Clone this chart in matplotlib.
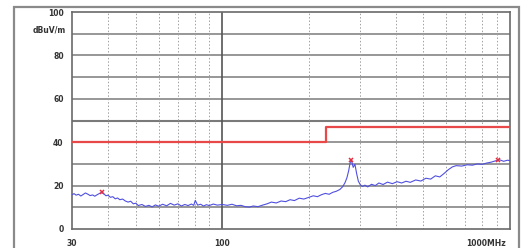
import matplotlib
matplotlib.use("Agg")
import matplotlib.pyplot as plt
from matplotlib.patches import Rectangle
from matplotlib.ticker import NullLocator

# measured trace (MHz, dBuV/m)
freq = [30, 30.5, 31, 31.6, 32.2, 32.8, 33.4, 34, 34.7, 35.4, 36, 36.7, 37.4, 38, 38.7,
        39.4, 40, 40.8, 41.6, 42.4, 43.2, 44, 45, 46, 47, 48, 49, 50, 51, 52.5, 54, 55.5,
        57, 58.5, 60, 62, 64, 66, 68, 70, 72, 74, 76, 78, 79.5, 80.5, 82, 84, 86, 88, 90,
        93, 96, 100, 104, 108, 112, 116, 120, 124, 128, 133, 138, 143, 148, 154, 160, 166,
        172, 178, 185, 192, 200, 207, 214, 221, 228, 235, 242, 249, 256, 262, 267, 271,
        275, 278, 281, 285, 289, 293, 297, 302, 307, 313, 320, 330, 340, 350, 362, 375,
        390, 405, 420, 435, 450, 470, 490, 510, 530, 550, 570, 590, 610, 630, 650, 680,
        710, 740, 770, 800, 830, 860, 890, 920, 950, 980, 1000]
level = [15.8, 16.3, 15.6, 16.0, 15.2, 15.9, 16.6, 16.1, 15.4, 15.7, 15.1, 15.8, 16.4, 16.9, 16.2,
         15.3, 15.6, 14.6, 14.9, 13.9, 14.3, 13.5, 13.8, 12.9, 12.4, 12.8, 11.6, 11.9, 10.8, 11.3, 10.4, 10.9,
         10.2, 11.1, 10.5, 11.4, 10.7, 11.8, 11.0, 11.6, 10.6, 11.3, 10.8, 11.5, 10.9, 13.2, 11.0, 11.4, 10.6, 11.2, 10.8,
         11.5, 11.0, 11.3, 10.9, 11.4, 10.7, 10.9, 10.3, 10.1, 10.6, 10.3, 11.0, 11.6, 12.4, 12.0, 12.9, 12.6,
         13.5, 13.1, 14.2, 13.8, 14.6, 15.3, 14.9, 15.8, 16.4, 16.0, 16.9, 17.4, 18.2, 19.5, 21.4, 23.6,
         27.0, 30.5, 31.6, 28.4, 29.8, 25.5, 22.0, 20.3, 19.6, 20.2, 19.4, 20.6, 20.0, 21.2, 20.5, 21.6,
         20.9, 21.8, 21.2, 22.0, 21.5, 22.6, 22.1, 23.4, 23.0, 24.5, 24.0, 25.6, 27.3, 28.6, 29.2, 29.0,
         29.6, 29.4, 30.0, 29.8, 30.4, 30.8, 31.4, 31.9, 31.2, 31.7, 31.5]

# limit line
limit_freq = [30, 230, 1000]
limit_level = [40, 47, 47]

# peak markers
peak_freq = [38, 281, 910]
peak_level = [16.9, 31.6, 31.8]

y_ticks = [0, 20, 40, 60, 80, 100]
x_labels = ["30", "100", "1000MHz"]
minor_freqs = [40, 50, 60, 70, 80, 90, 200, 300, 400, 500, 600, 700, 800, 900]

fig = plt.figure(figsize=(5.22, 2.48), dpi=100)
fig.patch.set_facecolor("white")
fig.patches.append(Rectangle((14 / 522, -0.05), 505 / 522, 1 - 7 / 248 + 0.05,
                             transform=fig.transFigure, fill=False,
                             edgecolor="#8a8a8a", lw=1.6))

ax = fig.add_axes([72 / 522, 19 / 248, 438 / 522, 217 / 248])
ax.set_xscale("log")
ax.set_xlim(30, 1000)
ax.set_ylim(0, 100)

# grid
for v in range(10, 100, 10):
    ax.axhline(v, color="#7a7a7a", lw=1.5 if v == 50 else 1.1, zorder=1)
for f in minor_freqs:
    ax.axvline(f, color="#a0a0a0", lw=0.7, ls=(0, (1.5, 2)), zorder=1)
ax.axvline(100, color="#555555", lw=1.2, zorder=1)

ax.plot(limit_freq, limit_level, drawstyle="steps-post", color="#e84848", lw=1.6, zorder=3)
ax.plot(freq, level, color="#5050e0", lw=0.8, zorder=4)
ax.plot(peak_freq, peak_level, ls="none", marker="x", color="#e03040", ms=3.5, mew=1.1, zorder=5)

for s in ax.spines.values():
    s.set_color("#6a6a6a")
    s.set_linewidth(1.2)

ax.xaxis.set_minor_locator(NullLocator())
ax.set_xticks([30, 100, 1000])
ax.set_xticklabels([])
ax.set_yticks(y_ticks)
ax.set_yticklabels([str(t) for t in y_ticks])
ax.tick_params(axis="y", length=0, pad=6, labelsize=5.5, labelcolor="#333333")
ax.tick_params(axis="x", length=0)
for lab in ax.get_yticklabels():
    lab.set_fontweight("bold")

txt = dict(fontsize=5.5, fontweight="bold", color="#333333")
ax.text(-0.014, 91.5, "dBuV/m", transform=ax.get_yaxis_transform(), ha="right", va="center", **txt)
ax.text(30, -4.5, x_labels[0], ha="center", va="top", **txt)
ax.text(100, -4.5, x_labels[1], ha="center", va="top", **txt)
ax.text(0.99, -0.045, x_labels[2], transform=ax.transAxes, ha="right", va="top", **txt)

fig.savefig("out.png", dpi=100)
